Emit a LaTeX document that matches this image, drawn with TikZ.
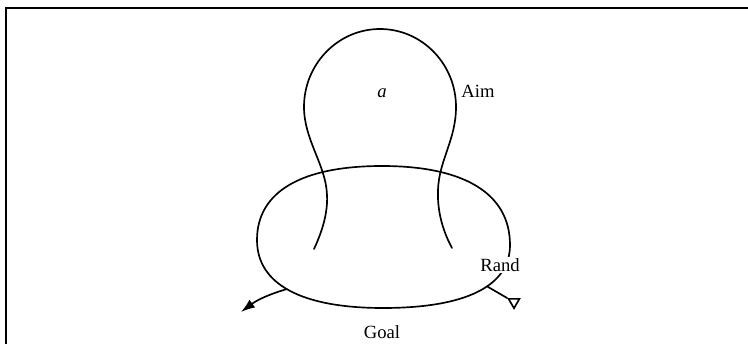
\documentclass[tikz,border=0pt]{standalone}
\usepackage{fontspec}
\setmainfont{Liberation Serif}
\usepackage{tikz}
\usetikzlibrary{arrows.meta, positioning, shapes.geometric}

\begin{document}
\begin{tikzpicture}[x=0.02cm, y=-0.02cm,
    curve/.style={line width=0.95pt, line cap=round},
    lbl/.style={font=\fontsize{10.6}{12}\selectfont, inner sep=1pt},
    frameline/.style={line width=1.4pt}]
  \useasboundingbox (0,0) rectangle (748,344);
  \draw[frameline] (6,344) -- (6,8) -- (748,8);
  % upper curve (Aim)
  \draw[curve] (314,249) .. controls (322,232) and (328,213) .. (327,195)
    .. controls (326,165) and (304,140) .. (304,107)
    .. controls (304,64) and (338,29) .. (380,29)
    .. controls (422,29) and (456,64) .. (456,107)
    .. controls (456,140) and (439,160) .. (438,190)
    .. controls (437,215) and (445,235) .. (452,248);
  % lower loop (Goal)
  \draw[curve] (382,166) .. controls (465,166) and (510,194) .. (510,245)
    .. controls (510,286) and (466,308) .. coordinate[pos=0.42] (randfoot) (383,308)
    .. controls (301,308) and (257,284) .. coordinate[pos=0.52] (goalfoot) (257,240)
    .. controls (257,192) and (301,166) .. cycle;
  \node[lbl] (a) at (382,93) {\textit{a}};
  \node[lbl] (aim) at (478,91) {Aim};
  \node[lbl, fill=white] (rand) at (500,265) {Rand};
  \node[lbl] (goal) at (382,332) {Goal};
  % branches
  \coordinate (out) at (241,312);
  \node[draw, regular polygon, regular polygon sides=3, shape border rotate=180,
    minimum size=0.25cm, inner sep=0pt, line width=0.95pt] (tri) at (514,302) {};
  \draw[curve, -{Latex[length=8pt, width=5.5pt]}] (goalfoot) to[bend right=10] (out);
  \draw[curve] (randfoot) -- (tri);
\end{tikzpicture}
\end{document}
